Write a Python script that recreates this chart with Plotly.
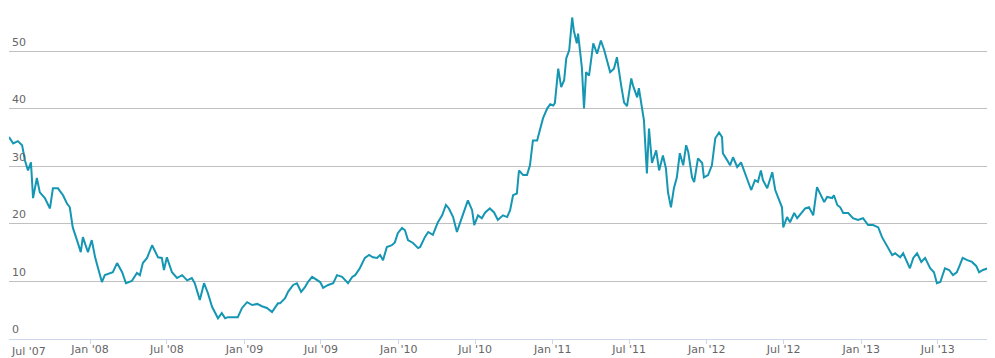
import plotly.graph_objects as go

dates = [
    "2007-06-23", "2007-07-03", "2007-07-14", "2007-07-24", "2007-07-31", "2007-08-07", "2007-08-14",
    "2007-08-19", "2007-08-28", "2007-09-04", "2007-09-16", "2007-09-28", "2007-10-05", "2007-10-17",
    "2007-10-29", "2007-11-07", "2007-11-14", "2007-11-21", "2007-12-01", "2007-12-10", "2007-12-15",
    "2007-12-22", "2007-12-27", "2008-01-05", "2008-01-13", "2008-01-20", "2008-01-29", "2008-02-05",
    "2008-02-17", "2008-02-24", "2008-03-05", "2008-03-17", "2008-03-26", "2008-04-09", "2008-04-21",
    "2008-04-28", "2008-05-05", "2008-05-15", "2008-05-27", "2008-06-03", "2008-06-10", "2008-06-19",
    "2008-06-24", "2008-07-01", "2008-07-13", "2008-07-25", "2008-08-06", "2008-08-18", "2008-08-29",
    "2008-09-05", "2008-09-17", "2008-09-27", "2008-10-06", "2008-10-16", "2008-10-23", "2008-10-30",
    "2008-11-08", "2008-11-16", "2008-11-23", "2008-12-05", "2008-12-16", "2008-12-26", "2009-01-07",
    "2009-01-19", "2009-01-31", "2009-02-11", "2009-02-23", "2009-03-07", "2009-03-14", "2009-03-21",
    "2009-03-26", "2009-04-07", "2009-04-14", "2009-04-26", "2009-05-05", "2009-05-15", "2009-05-24",
    "2009-05-31", "2009-06-10", "2009-06-22", "2009-06-29", "2009-07-06", "2009-07-18", "2009-07-30",
    "2009-08-08", "2009-08-20", "2009-08-27", "2009-09-03", "2009-09-13", "2009-09-20", "2009-10-01",
    "2009-10-13", "2009-10-23", "2009-11-01", "2009-11-11", "2009-11-18", "2009-11-25", "2009-12-04",
    "2009-12-16", "2009-12-23", "2009-12-30", "2010-01-09", "2010-01-16", "2010-01-23", "2010-02-04",
    "2010-02-16", "2010-02-21", "2010-03-04", "2010-03-12", "2010-03-23", "2010-04-04", "2010-04-14",
    "2010-04-23", "2010-04-30", "2010-05-10", "2010-05-19", "2010-05-26", "2010-06-02", "2010-06-14",
    "2010-06-24", "2010-06-29", "2010-07-08", "2010-07-17", "2010-07-25", "2010-08-05", "2010-08-15",
    "2010-08-24", "2010-09-05", "2010-09-15", "2010-09-22", "2010-09-29", "2010-10-08", "2010-10-13",
    "2010-10-23", "2010-11-01", "2010-11-08", "2010-11-15", "2010-11-25", "2010-12-02", "2010-12-09",
    "2010-12-19", "2010-12-26", "2011-01-02", "2011-01-06", "2011-01-14", "2011-01-21", "2011-01-28",
    "2011-02-02", "2011-02-09", "2011-02-16", "2011-02-20", "2011-02-27", "2011-03-02", "2011-03-07",
    "2011-03-11", "2011-03-16", "2011-03-21", "2011-03-28", "2011-04-07", "2011-04-16", "2011-04-25",
    "2011-05-03", "2011-05-10", "2011-05-17", "2011-05-26", "2011-06-02", "2011-06-12", "2011-06-19",
    "2011-06-26", "2011-07-06", "2011-07-10", "2011-07-20", "2011-07-24", "2011-08-01", "2011-08-05",
    "2011-08-12", "2011-08-17", "2011-08-24", "2011-09-03", "2011-09-10", "2011-09-19", "2011-09-26",
    "2011-10-01", "2011-10-08", "2011-10-15", "2011-10-22", "2011-10-29", "2011-11-06", "2011-11-13",
    "2011-11-18", "2011-11-27", "2011-12-02", "2011-12-11", "2011-12-21", "2011-12-25", "2012-01-04",
    "2012-01-13", "2012-01-21", "2012-01-30", "2012-02-06", "2012-02-08", "2012-02-18", "2012-02-25",
    "2012-03-03", "2012-03-13", "2012-03-22", "2012-04-01", "2012-04-08", "2012-04-15", "2012-04-24",
    "2012-05-01", "2012-05-08", "2012-05-13", "2012-05-23", "2012-06-04", "2012-06-11", "2012-06-18",
    "2012-06-27", "2012-06-30", "2012-07-09", "2012-07-16", "2012-07-26", "2012-08-02", "2012-08-11",
    "2012-08-21", "2012-08-30", "2012-09-09", "2012-09-18", "2012-09-25", "2012-10-05", "2012-10-12",
    "2012-10-24", "2012-10-28", "2012-11-05", "2012-11-12", "2012-11-19", "2012-12-01", "2012-12-12",
    "2012-12-24", "2013-01-05", "2013-01-17", "2013-01-29", "2013-02-10", "2013-02-19", "2013-02-26",
    "2013-03-05", "2013-03-15", "2013-03-22", "2013-04-03", "2013-04-10", "2013-04-19", "2013-04-26",
    "2013-05-04", "2013-05-13", "2013-05-23", "2013-06-01", "2013-06-13", "2013-06-22", "2013-06-29",
    "2013-07-07", "2013-07-18", "2013-07-28", "2013-08-06", "2013-08-15", "2013-08-22", "2013-08-29",
    "2013-09-09", "2013-09-20", "2013-09-30", "2013-10-07", "2013-10-16", "2013-10-28",
]

values = [
    35.1, 34.0, 34.4, 33.7, 31.0, 29.3, 30.7,
    24.5, 28.0, 25.5, 24.5, 22.7, 26.2, 26.2,
    25.0, 23.6, 22.9, 19.4, 17.2, 15.1, 17.7,
    16.3, 15.1, 17.2, 14.2, 12.3, 9.9, 11.1,
    11.5, 11.6, 13.2, 11.6, 9.7, 10.1, 11.5,
    11.1, 13.2, 14.1, 16.3, 15.1, 14.2, 14.1,
    12.0, 14.2, 11.6, 10.6, 11.1, 10.2, 10.6,
    9.7, 6.8, 9.7, 8.0, 5.6, 4.7, 3.6,
    4.5, 3.6, 3.8, 3.8, 3.8, 5.4, 6.4,
    5.9, 6.1, 5.7, 5.4, 4.7, 5.4, 6.2,
    6.2, 7.1, 8.2, 9.4, 9.7, 8.2, 9.0,
    9.9, 10.8, 10.2, 9.9, 8.9, 9.4, 9.7,
    11.1, 10.8, 10.2, 9.7, 10.8, 11.1, 12.3,
    14.1, 14.6, 14.2, 14.1, 14.6, 13.7, 16.0,
    16.3, 16.8, 18.4, 19.3, 18.9, 17.2, 16.7,
    15.8, 16.0, 17.7, 18.6, 18.1, 20.3, 21.5,
    23.3, 22.7, 21.2, 18.6, 20.1, 21.5, 24.1,
    22.4, 19.8, 21.5, 21.0, 22.0, 22.7, 22.0,
    20.7, 21.5, 21.2, 22.4, 25.0, 25.3, 29.3,
    28.5, 28.5, 30.2, 34.5, 34.5, 36.3, 38.4,
    40.1, 40.8, 40.6, 41.0, 47.0, 43.8, 45.0,
    48.8, 50.2, 55.9, 53.6, 51.4, 53.1, 49.8,
    47.2, 40.1, 46.4, 45.8, 51.4, 49.6, 51.9,
    50.2, 48.1, 46.4, 47.0, 49.0, 44.1, 41.1,
    40.5, 45.3, 44.1, 42.0, 43.6, 39.8, 38.0,
    28.8, 36.6, 30.6, 32.8, 29.3, 31.9, 29.7,
    25.5, 22.9, 26.2, 28.1, 32.3, 30.2, 33.7,
    32.5, 28.1, 27.3, 31.4, 30.6, 28.1, 28.5,
    30.2, 34.9, 35.9, 35.1, 32.3, 31.1, 30.2,
    31.6, 29.9, 30.7, 28.8, 27.3, 25.9, 27.6,
    27.3, 29.3, 27.6, 26.2, 29.0, 25.9, 24.7,
    22.9, 19.4, 21.2, 20.3, 21.9, 21.0, 21.9,
    22.7, 22.9, 21.5, 26.4, 25.3, 23.8, 24.7,
    24.5, 25.0, 23.3, 22.9, 21.9, 21.9, 21.0,
    20.7, 21.0, 19.8, 19.8, 19.4, 17.7, 16.8,
    15.8, 14.6, 14.9, 14.2, 14.9, 13.4, 12.3,
    14.1, 14.9, 13.4, 14.1, 12.3, 11.6, 9.7,
    9.9, 12.3, 12.0, 11.1, 11.6, 12.8, 14.1,
    13.7, 13.4, 12.7, 11.6, 12.0, 12.3,
]

tick_dates = ["2007-07-01", "2008-01-01", "2008-07-01", "2009-01-01", "2009-07-01",
              "2010-01-01", "2010-07-01", "2011-01-01", "2011-07-01", "2012-01-01",
              "2012-07-01", "2013-01-01", "2013-07-01"]
tick_labels = ["Jul '07", "Jan '08", "Jul '08", "Jan '09", "Jul '09", "Jan '10", "Jul '10",
               "Jan '11", "Jul '11", "Jan '12", "Jul '12", "Jan '13", "Jul '13"]
y_ticks = [0, 10, 20, 30, 40, 50]

fig = go.Figure(go.Scatter(
    x=dates, y=values, mode="lines",
    line=dict(color="#1596b3", width=2),
    hoverinfo="skip",
))

# Plotly hides the edge tick label, so the first one is written as a left-aligned
# label anchored at its tick date (as the original chart shifts it to fit)
fig.add_annotation(
    x=tick_dates[0], xref="x", y=0, yref="paper",
    text=tick_labels[0], showarrow=False,
    xanchor="left", yanchor="top", xshift=-3, yshift=-4,
    font=dict(family="DejaVu Sans", size=11, color="#666666"),
)

# the page body has an 8px default margin, so the figure is sized to fit inside it
fig.update_layout(
    width=987, height=350,
    margin=dict(l=1, r=7, t=2, b=19),
    paper_bgcolor="white", plot_bgcolor="white",
    showlegend=False,
    font=dict(family="DejaVu Sans", size=11, color="#666666"),
    xaxis=dict(
        range=[dates[0], dates[-1]],
        tickvals=tick_dates, ticktext=[""] + tick_labels[1:],
        showgrid=False, zeroline=False,
        showline=True, linecolor="#ccd6eb", linewidth=1,
        ticks="outside", ticklen=4, tickcolor="#ccd6eb",
        tickfont=dict(size=11, color="#666666"),
        ticklabeloverflow="allow", ticklabelstandoff=-4,
        automargin=False,
        fixedrange=True,
    ),
    yaxis=dict(
        range=[0, 57.2],
        tickvals=y_ticks,
        showgrid=True, gridcolor="#c0c0c0", gridwidth=1,
        zeroline=False, showline=False,
        ticks="", ticklabelposition="inside top",
        ticklabelshift=-2,
        tickfont=dict(size=11, color="#666666"),
        automargin=False,
        fixedrange=True,
    ),
)

fig.write_html("out.html")
